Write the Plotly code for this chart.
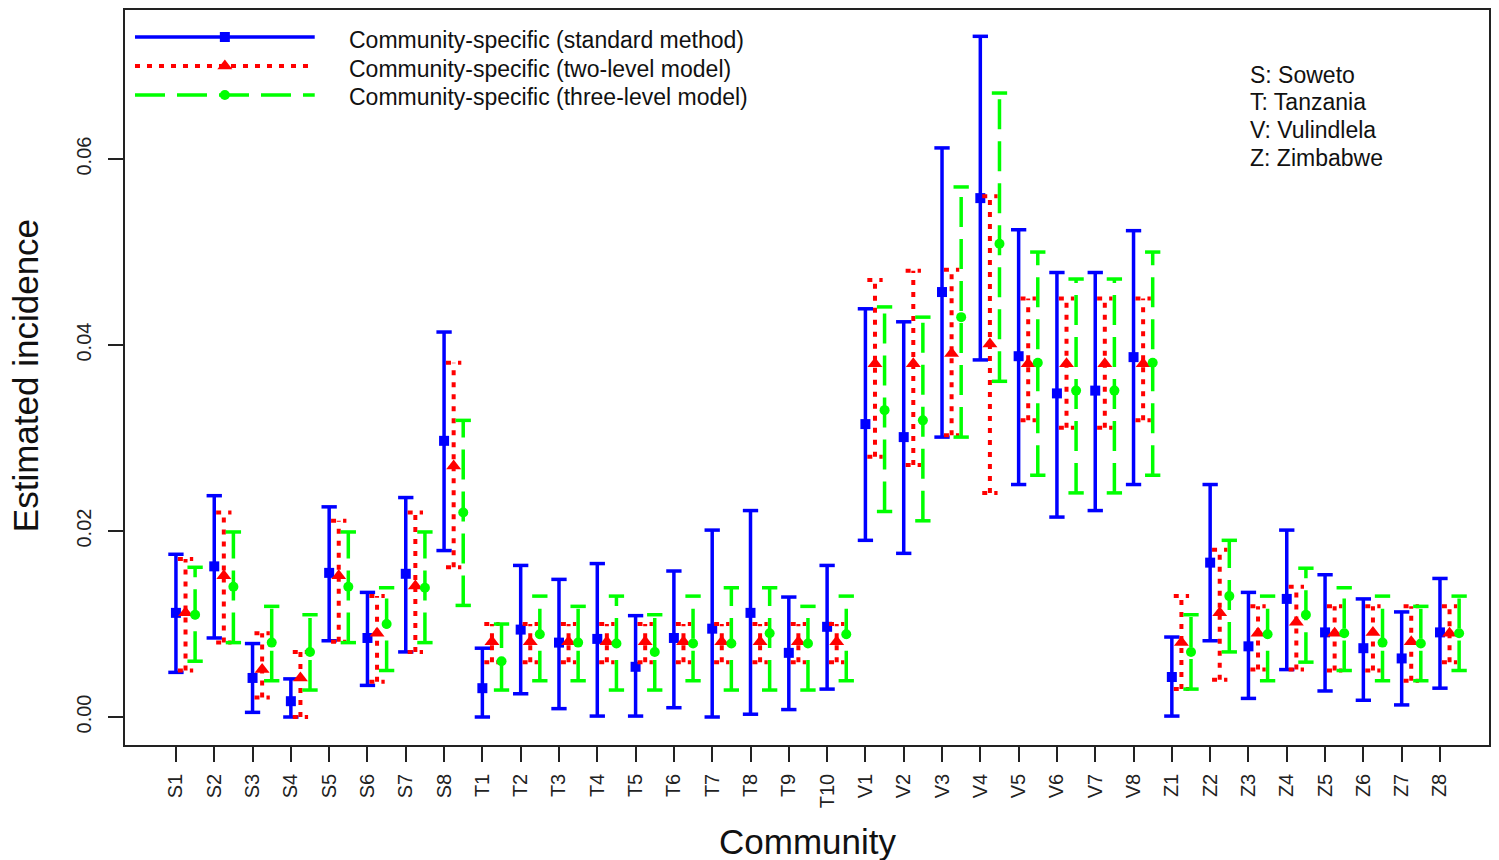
import plotly.graph_objects as go

# Communities (Soweto, Tanzania, Vulindlela, Zimbabwe)
communities = (["S%d" % i for i in range(1, 9)] + ["T%d" % i for i in range(1, 11)]
               + ["V%d" % i for i in range(1, 9)] + ["Z%d" % i for i in range(1, 9)])

# Community-specific (standard method)
std_est = [0.0112, 0.0162, 0.0042, 0.0017, 0.0155, 0.0085, 0.0154, 0.0297,
           0.0031, 0.0094, 0.0080, 0.0084, 0.0054, 0.0085, 0.0095, 0.0112, 0.0069, 0.0097,
           0.0315, 0.0301, 0.0457, 0.0558, 0.0388, 0.0348, 0.0351, 0.0387,
           0.0043, 0.0166, 0.0076, 0.0127, 0.0091, 0.0074, 0.0063, 0.0091]
std_lo = [0.0048, 0.0085, 0.0005, 0.0000, 0.0082, 0.0034, 0.0070, 0.0179,
          0.0000, 0.0025, 0.0009, 0.0001, 0.0001, 0.0010, 0.0000, 0.0003, 0.0008, 0.0030,
          0.0190, 0.0176, 0.0301, 0.0384, 0.0250, 0.0215, 0.0222, 0.0250,
          0.0001, 0.0082, 0.0020, 0.0051, 0.0028, 0.0018, 0.0013, 0.0031]
std_hi = [0.0175, 0.0238, 0.0079, 0.0041, 0.0226, 0.0134, 0.0236, 0.0414,
          0.0074, 0.0163, 0.0148, 0.0165, 0.0109, 0.0157, 0.0201, 0.0222, 0.0129, 0.0163,
          0.0439, 0.0425, 0.0612, 0.0732, 0.0524, 0.0478, 0.0478, 0.0523,
          0.0086, 0.0250, 0.0134, 0.0201, 0.0153, 0.0127, 0.0113, 0.0149]

# Community-specific (two-level model)
two_est = [0.0112, 0.0152, 0.0051, 0.0042, 0.0152, 0.0090, 0.0141, 0.0270,
           0.0081, 0.0081, 0.0081, 0.0081, 0.0081, 0.0081, 0.0081, 0.0081, 0.0081, 0.0081,
           0.0380, 0.0380, 0.0391, 0.0401, 0.0380, 0.0380, 0.0380, 0.0380,
           0.0080, 0.0112, 0.0090, 0.0102, 0.0090, 0.0091, 0.0081, 0.0090]
two_lo = [0.0050, 0.0080, 0.0021, 0.0000, 0.0081, 0.0038, 0.0070, 0.0161,
          0.0059, 0.0059, 0.0059, 0.0059, 0.0059, 0.0059, 0.0059, 0.0059, 0.0059, 0.0059,
          0.0280, 0.0271, 0.0303, 0.0241, 0.0319, 0.0311, 0.0311, 0.0319,
          0.0030, 0.0040, 0.0051, 0.0051, 0.0050, 0.0050, 0.0039, 0.0059]
two_hi = [0.0170, 0.0220, 0.0090, 0.0070, 0.0211, 0.0130, 0.0220, 0.0381,
          0.0100, 0.0100, 0.0100, 0.0100, 0.0100, 0.0100, 0.0100, 0.0100, 0.0100, 0.0100,
          0.0470, 0.0480, 0.0481, 0.0560, 0.0450, 0.0450, 0.0450, 0.0450,
          0.0130, 0.0180, 0.0119, 0.0140, 0.0119, 0.0119, 0.0119, 0.0119]

# Community-specific (three-level model)
three_est = [0.0110, 0.0140, 0.0080, 0.0070, 0.0140, 0.0100, 0.0139, 0.0220,
             0.0060, 0.0089, 0.0080, 0.0079, 0.0070, 0.0079, 0.0079, 0.0090, 0.0079, 0.0089,
             0.0330, 0.0319, 0.0430, 0.0509, 0.0381, 0.0351, 0.0351, 0.0381,
             0.0070, 0.0130, 0.0089, 0.0110, 0.0090, 0.0080, 0.0079, 0.0090]
three_lo = [0.0060, 0.0080, 0.0039, 0.0029, 0.0080, 0.0050, 0.0080, 0.0120,
            0.0029, 0.0039, 0.0039, 0.0029, 0.0029, 0.0039, 0.0029, 0.0029, 0.0029, 0.0039,
            0.0221, 0.0211, 0.0301, 0.0361, 0.0260, 0.0241, 0.0241, 0.0260,
            0.0030, 0.0070, 0.0039, 0.0059, 0.0050, 0.0039, 0.0039, 0.0050]
three_hi = [0.0161, 0.0199, 0.0119, 0.0110, 0.0199, 0.0139, 0.0199, 0.0319,
            0.0100, 0.0130, 0.0119, 0.0130, 0.0110, 0.0130, 0.0139, 0.0139, 0.0119, 0.0130,
            0.0441, 0.0430, 0.0570, 0.0671, 0.0500, 0.0471, 0.0471, 0.0500,
            0.0110, 0.0190, 0.0130, 0.0160, 0.0139, 0.0130, 0.0119, 0.0130]

series_names = ["Community-specific (standard method)",
                "Community-specific (two-level model)",
                "Community-specific (three-level model)"]
region_notes = ["S: Soweto", "T: Tanzania", "V: Vulindlela", "Z: Zimbabwe"]
y_ticks = [0.00, 0.02, 0.04, 0.06]

FONT = "Arial, Liberation Sans, sans-serif"
W, H = 1499, 860
ML, MR, MT, MB = 125, 8, 10, 115
PW, PH = W - ML - MR, H - MT - MB

series = [
    dict(est=std_est, lo=std_lo, hi=std_hi, off=0.0, color="#0000FF",
         dash="solid", width=3.5, symbol="square", msize=10),
    dict(est=two_est, lo=two_lo, hi=two_hi, off=0.25, color="#FF0000",
         dash="5px,7px", width=4, symbol="triangle-up", msize=13),
    dict(est=three_est, lo=three_lo, hi=three_hi, off=0.5, color="#00FF00",
         dash="30px,12px", width=3.5, symbol="circle", msize=10),
]
CAP = 0.2

fig = go.Figure()
for s in series:
    xs = [i + s["off"] for i in range(len(communities))]
    sx, sy, cx, cy = [], [], [], []
    for x, lo, hi in zip(xs, s["lo"], s["hi"]):
        sx += [x, x, None]
        sy += [lo, hi, None]
        for v in (lo, hi):
            cx += [x - CAP, x + CAP, None]
            cy += [v, v, None]
    line = dict(color=s["color"], width=s["width"], dash=s["dash"])
    fig.add_trace(go.Scatter(x=sx, y=sy, mode="lines", line=line,
                             showlegend=False, hoverinfo="skip"))
    fig.add_trace(go.Scatter(x=cx, y=cy, mode="lines", line=line,
                             showlegend=False, hoverinfo="skip"))
    fig.add_trace(go.Scatter(x=xs, y=s["est"], mode="markers",
                             marker=dict(symbol=s["symbol"], size=s["msize"],
                                         color=s["color"], line=dict(width=0)),
                             showlegend=False, cliponaxis=False))

# Legend key drawn on an overlay axis measured in pixels
leg_y = [37, 66, 95]
for s, ly in zip(series, leg_y):
    fig.add_trace(go.Scatter(x=[135, 315], y=[ly, ly], mode="lines",
                             line=dict(color=s["color"], width=s["width"], dash=s["dash"]),
                             xaxis="x2", yaxis="y2", showlegend=False, hoverinfo="skip"))
    fig.add_trace(go.Scatter(x=[225], y=[ly], mode="markers",
                             marker=dict(symbol=s["symbol"], size=s["msize"],
                                         color=s["color"]),
                             xaxis="x2", yaxis="y2", showlegend=False, hoverinfo="skip"))


def px(xp):
    return (xp - ML) / PW


def py(yp):
    return (H - MB - yp) / PH


annotations = []
for name, ly in zip(series_names, [40, 69, 97]):
    annotations.append(dict(text=name, x=px(347), y=py(ly), xref="paper", yref="paper",
                            xanchor="left", yanchor="middle", showarrow=False,
                            font=dict(family=FONT, size=23, color="#111")))
for note, ly in zip(region_notes, [75, 102, 130, 158]):
    annotations.append(dict(text=note, x=px(1250), y=py(ly), xref="paper", yref="paper",
                            xanchor="left", yanchor="middle", showarrow=False,
                            font=dict(family=FONT, size=23, color="#111")))
annotations.append(dict(text="Estimated incidence", x=px(25), y=py(376), xref="paper",
                        yref="paper", xanchor="center", yanchor="middle", textangle=-90,
                        showarrow=False, font=dict(family=FONT, size=35, color="#111")))
annotations.append(dict(text="Community", x=px(808), y=py(841), xref="paper",
                        yref="paper", xanchor="center", yanchor="middle",
                        showarrow=False, font=dict(family=FONT, size=35, color="#111")))

axis_common = dict(showgrid=False, zeroline=False, showline=True, mirror=True,
                   linecolor="#222", linewidth=1.5, ticks="outside", ticklen=15,
                   tickwidth=1.5, tickcolor="#222",
                   tickfont=dict(family=FONT, size=20, color="#222"))

fig.update_layout(
    width=W, height=H,
    margin=dict(l=ML, r=MR, t=MT, b=MB),
    paper_bgcolor="white", plot_bgcolor="white",
    showlegend=False,
    xaxis=dict(range=[-1.33, 34.28], tickmode="array",
               tickvals=list(range(len(communities))), ticktext=communities,
               tickangle=-90, ticklabelstandoff=4, **axis_common),
    yaxis=dict(range=[-0.00301, 0.07603], tickmode="array", tickvals=y_ticks,
               ticktext=["%.2f" % v for v in y_ticks], tickangle=-90,
               ticklabelstandoff=9, **axis_common),
    xaxis2=dict(overlaying="x", range=[ML, W - MR], visible=False, anchor="y2"),
    yaxis2=dict(overlaying="y", range=[H - MB, MT], visible=False, anchor="x2"),
    annotations=annotations,
)

fig.write_html("out.html")
